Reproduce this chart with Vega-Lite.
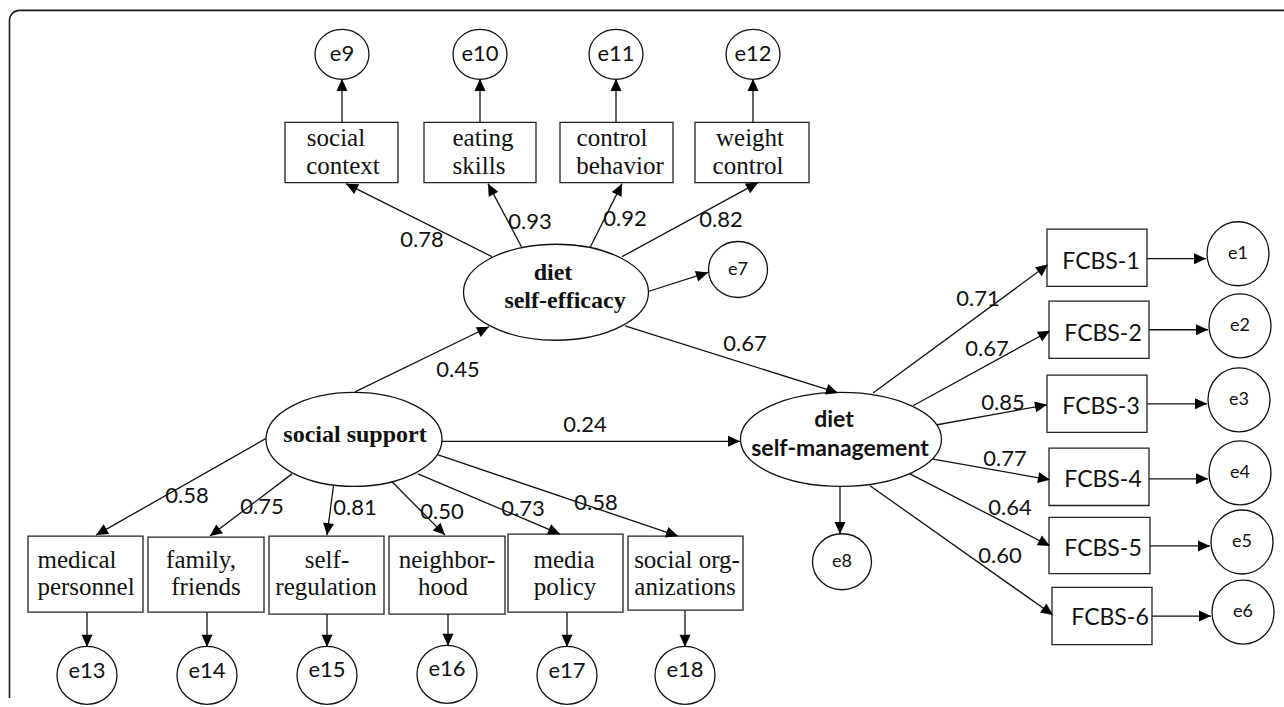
{
  "$schema": "https://vega.github.io/schema/vega-lite/v6.json",
  "width": 1284,
  "height": 707,
  "padding": 0,
  "autosize": {"type": "fit", "contains": "padding"},
  "background": "white",
  "config": {"view": {"stroke": null}},
  "datasets": {
    "frame": [{"x": 9.5, "x2": 1320, "y": 10.5, "y2": 740}],
    "boxes": [
      {"name": "social context", "x": 285, "x2": 398, "y": 124, "y2": 185},
      {"name": "eating skills", "x": 424, "x2": 536, "y": 124, "y2": 185},
      {"name": "control behavior", "x": 560, "x2": 673, "y": 124, "y2": 185},
      {"name": "weight control", "x": 695, "x2": 809, "y": 124, "y2": 185},
      {"name": "medical personnel", "x": 28, "x2": 143, "y": 543, "y2": 620},
      {"name": "family, friends", "x": 148, "x2": 264, "y": 544, "y2": 620},
      {"name": "self-regulation", "x": 269, "x2": 384, "y": 543, "y2": 622},
      {"name": "neighborhood", "x": 389, "x2": 505, "y": 543, "y2": 622},
      {"name": "media policy", "x": 508, "x2": 623, "y": 541, "y2": 620},
      {"name": "social organizations", "x": 628, "x2": 743, "y": 543, "y2": 618},
      {"name": "FCBS-1", "x": 1047, "x2": 1147, "y": 232, "y2": 290},
      {"name": "FCBS-2", "x": 1049, "x2": 1149, "y": 305, "y2": 363},
      {"name": "FCBS-3", "x": 1047, "x2": 1147, "y": 380, "y2": 438},
      {"name": "FCBS-4", "x": 1049, "x2": 1149, "y": 454, "y2": 512},
      {"name": "FCBS-5", "x": 1049, "x2": 1150, "y": 524, "y2": 581},
      {"name": "FCBS-6", "x": 1052, "x2": 1152, "y": 595, "y2": 653}
    ],
    "nodes": [
      {"name": "diet self-efficacy", "kind": "eff", "x": 556, "y": 296},
      {"name": "social support", "kind": "sup", "x": 354, "y": 445},
      {"name": "diet self-management", "kind": "man", "x": 841, "y": 445},
      {"name": "e7", "kind": "errM", "x": 738, "y": 273},
      {"name": "e8", "kind": "errM", "x": 842, "y": 569},
      {"name": "e1", "kind": "errR", "x": 1238, "y": 257},
      {"name": "e2", "kind": "errR", "x": 1240, "y": 330},
      {"name": "e3", "kind": "errR", "x": 1239, "y": 405},
      {"name": "e4", "kind": "errR", "x": 1240, "y": 479},
      {"name": "e5", "kind": "errR", "x": 1242, "y": 549},
      {"name": "e6", "kind": "errR", "x": 1243, "y": 620},
      {"name": "e9", "kind": "errT", "x": 342, "y": 55},
      {"name": "e10", "kind": "errT", "x": 480, "y": 55},
      {"name": "e11", "kind": "errT", "x": 616, "y": 55},
      {"name": "e12", "kind": "errT", "x": 753, "y": 55},
      {"name": "e13", "kind": "errB", "x": 87, "y": 684},
      {"name": "e14", "kind": "errB", "x": 207, "y": 684},
      {"name": "e15", "kind": "errB", "x": 327, "y": 684},
      {"name": "e16", "kind": "errB", "x": 447, "y": 683},
      {"name": "e17", "kind": "errB", "x": 567, "y": 684},
      {"name": "e18", "kind": "errB", "x": 685, "y": 684}
    ],
    "edges": [
      {"x": 492, "y": 260, "x2": 346, "y2": 186},
      {"x": 522, "y": 251, "x2": 488, "y2": 186},
      {"x": 590, "y": 251, "x2": 622, "y2": 186},
      {"x": 622, "y": 260, "x2": 758, "y2": 185},
      {"x": 649, "y": 295, "x2": 708, "y2": 276},
      {"x": 625, "y": 330, "x2": 838, "y2": 398},
      {"x": 355, "y": 397, "x2": 489, "y2": 331},
      {"x": 442, "y": 447, "x2": 740, "y2": 447},
      {"x": 342, "y": 124, "x2": 342, "y2": 80},
      {"x": 480, "y": 124, "x2": 480, "y2": 80},
      {"x": 616, "y": 124, "x2": 616, "y2": 80},
      {"x": 753, "y": 124, "x2": 753, "y2": 80},
      {"x": 268, "y": 443, "x2": 96, "y2": 542},
      {"x": 292, "y": 480, "x2": 210, "y2": 543},
      {"x": 334, "y": 488, "x2": 327, "y2": 542},
      {"x": 390, "y": 486, "x2": 445, "y2": 542},
      {"x": 418, "y": 480, "x2": 560, "y2": 541},
      {"x": 436, "y": 460, "x2": 678, "y2": 543},
      {"x": 87, "y": 620, "x2": 87, "y2": 655},
      {"x": 207, "y": 620, "x2": 207, "y2": 655},
      {"x": 327, "y": 622, "x2": 327, "y2": 655},
      {"x": 448, "y": 622, "x2": 448, "y2": 654},
      {"x": 567, "y": 620, "x2": 567, "y2": 655},
      {"x": 685, "y": 618, "x2": 685, "y2": 655},
      {"x": 873, "y": 398, "x2": 1048, "y2": 268},
      {"x": 913, "y": 411, "x2": 1050, "y2": 335},
      {"x": 933, "y": 431, "x2": 1047, "y2": 410},
      {"x": 933, "y": 465, "x2": 1050, "y2": 486},
      {"x": 910, "y": 480, "x2": 1050, "y2": 553},
      {"x": 870, "y": 492, "x2": 1053, "y2": 623},
      {"x": 840, "y": 493, "x2": 840, "y2": 541},
      {"x": 1147, "y": 262, "x2": 1206, "y2": 262},
      {"x": 1149, "y": 334, "x2": 1208, "y2": 334},
      {"x": 1147, "y": 409, "x2": 1207, "y2": 409},
      {"x": 1149, "y": 485, "x2": 1208, "y2": 485},
      {"x": 1150, "y": 553, "x2": 1210, "y2": 553},
      {"x": 1152, "y": 624, "x2": 1211, "y2": 624}
    ],
    "labels": [
      {"role": "coef", "text": "0.78", "x": 422, "y": 243},
      {"role": "coef", "text": "0.93", "x": 530, "y": 225},
      {"role": "coef", "text": "0.92", "x": 625, "y": 222},
      {"role": "coef", "text": "0.82", "x": 721, "y": 223},
      {"role": "coef", "text": "0.67", "x": 745, "y": 348},
      {"role": "coef", "text": "0.45", "x": 458, "y": 375},
      {"role": "coef", "text": "0.24", "x": 585, "y": 430},
      {"role": "coef", "text": "0.71", "x": 978, "y": 303},
      {"role": "coef", "text": "0.67", "x": 987, "y": 354},
      {"role": "coef", "text": "0.85", "x": 1003, "y": 408},
      {"role": "coef", "text": "0.77", "x": 1005, "y": 465},
      {"role": "coef", "text": "0.64", "x": 1010, "y": 515},
      {"role": "coef", "text": "0.60", "x": 1000, "y": 563},
      {"role": "coef", "text": "0.58", "x": 187, "y": 502},
      {"role": "coef", "text": "0.75", "x": 262, "y": 514},
      {"role": "coef", "text": "0.81", "x": 355, "y": 515},
      {"role": "coef", "text": "0.50", "x": 442, "y": 519},
      {"role": "coef", "text": "0.73", "x": 523, "y": 516},
      {"role": "coef", "text": "0.58", "x": 596, "y": 509},
      {"role": "box", "text": "social", "x": 336, "y": 148},
      {"role": "box", "text": "context", "x": 343, "y": 176},
      {"role": "box", "text": "eating", "x": 483, "y": 148},
      {"role": "box", "text": "skills", "x": 479, "y": 176},
      {"role": "box", "text": "control", "x": 612, "y": 148},
      {"role": "box", "text": "behavior", "x": 620, "y": 176},
      {"role": "box", "text": "weight", "x": 750, "y": 148},
      {"role": "box", "text": "control", "x": 748, "y": 176},
      {"role": "box", "text": "medical", "x": 77, "y": 575},
      {"role": "box", "text": "personnel", "x": 86, "y": 603},
      {"role": "box", "text": "family,", "x": 201, "y": 575},
      {"role": "box", "text": "friends", "x": 206, "y": 603},
      {"role": "box", "text": "self-", "x": 327, "y": 575},
      {"role": "box", "text": "regulation", "x": 326, "y": 603},
      {"role": "box", "text": "neighbor-", "x": 447, "y": 575},
      {"role": "box", "text": "hood", "x": 443, "y": 603},
      {"role": "box", "text": "media", "x": 564, "y": 575},
      {"role": "box", "text": "policy", "x": 565, "y": 603},
      {"role": "box", "text": "social org-", "x": 687, "y": 575},
      {"role": "box", "text": "anizations", "x": 685, "y": 603},
      {"role": "latSerif", "text": "diet", "x": 553, "y": 284},
      {"role": "latSerif", "text": "self-efficacy", "x": 565, "y": 312},
      {"role": "latSerif", "text": "social support", "x": 355, "y": 448},
      {"role": "latSans", "text": "diet", "x": 834, "y": 432},
      {"role": "latSans", "text": "self-management", "x": 840, "y": 462},
      {"role": "fcbs", "text": "FCBS-1", "x": 1101, "y": 272},
      {"role": "fcbs", "text": "FCBS-2", "x": 1103, "y": 345},
      {"role": "fcbs", "text": "FCBS-3", "x": 1101, "y": 419},
      {"role": "fcbs", "text": "FCBS-4", "x": 1103, "y": 493},
      {"role": "fcbs", "text": "FCBS-5", "x": 1103, "y": 563},
      {"role": "fcbs", "text": "FCBS-6", "x": 1110, "y": 633},
      {"role": "eBig", "text": "e9", "x": 342, "y": 55},
      {"role": "eBig", "text": "e10", "x": 480, "y": 55},
      {"role": "eBig", "text": "e11", "x": 616, "y": 55},
      {"role": "eBig", "text": "e12", "x": 753, "y": 55},
      {"role": "eBig", "text": "e13", "x": 87, "y": 680},
      {"role": "eBig", "text": "e14", "x": 207, "y": 680},
      {"role": "eBig", "text": "e15", "x": 327, "y": 679},
      {"role": "eBig", "text": "e16", "x": 447, "y": 678},
      {"role": "eBig", "text": "e17", "x": 567, "y": 680},
      {"role": "eBig", "text": "e18", "x": 685, "y": 679},
      {"role": "eSmall", "text": "e7", "x": 738, "y": 273},
      {"role": "eSmall", "text": "e8", "x": 842, "y": 569},
      {"role": "eSmall", "text": "e1", "x": 1238, "y": 257},
      {"role": "eSmall", "text": "e2", "x": 1240, "y": 330},
      {"role": "eSmall", "text": "e3", "x": 1239, "y": 405},
      {"role": "eSmall", "text": "e4", "x": 1240, "y": 479},
      {"role": "eSmall", "text": "e5", "x": 1242, "y": 549},
      {"role": "eSmall", "text": "e6", "x": 1243, "y": 620}
    ]
  },
  "layer": [
    {
      "data": {"name": "frame"},
      "mark": {"type": "rect", "clip": true, "fill": "white", "stroke": "#1a1a1a", "strokeWidth": 1.6, "cornerRadius": 10},
      "encoding": {
        "x": {"field": "x", "type": "quantitative", "scale": {"domain": [0, 1284], "nice": false, "zero": false}, "axis": null},
        "x2": {"field": "x2"},
        "y": {"field": "y", "type": "quantitative", "scale": {"domain": [0, 707], "nice": false, "zero": false, "reverse": true}, "axis": null},
        "y2": {"field": "y2"}
      }
    },
    {
      "data": {"name": "edges"},
      "mark": {"type": "rule", "stroke": "#111", "strokeWidth": 1.3},
      "encoding": {
        "x": {"field": "x", "type": "quantitative", "scale": {"domain": [0, 1284], "nice": false, "zero": false}, "axis": null},
        "x2": {"field": "x2"},
        "y": {"field": "y", "type": "quantitative", "scale": {"domain": [0, 707], "nice": false, "zero": false, "reverse": true}, "axis": null},
        "y2": {"field": "y2"}
      }
    },
    {
      "data": {"name": "boxes"},
      "mark": {"type": "rect", "fill": "white", "stroke": "#222", "strokeWidth": 1.3},
      "encoding": {
        "x": {"field": "x", "type": "quantitative", "scale": {"domain": [0, 1284], "nice": false, "zero": false}, "axis": null},
        "x2": {"field": "x2"},
        "y": {"field": "y", "type": "quantitative", "scale": {"domain": [0, 707], "nice": false, "zero": false, "reverse": true}, "axis": null},
        "y2": {"field": "y2"}
      }
    },
    {
      "data": {"name": "nodes"},
      "mark": {"type": "point", "size": 4, "filled": true, "fill": "white", "stroke": "#111", "strokeWidth": 1.3, "opacity": 1},
      "encoding": {
        "x": {"field": "x", "type": "quantitative", "scale": {"domain": [0, 1284], "nice": false, "zero": false}, "axis": null},
        "y": {"field": "y", "type": "quantitative", "scale": {"domain": [0, 707], "nice": false, "zero": false, "reverse": true}, "axis": null},
        "shape": {
          "field": "kind",
          "type": "nominal",
          "legend": null,
          "scale": {
            "domain": ["eff", "sup", "man", "errM", "errR", "errT", "errB"],
            "range": [
              "M-92.5,0A92.5,48,0,1,0,92.5,0A92.5,48,0,1,0,-92.5,0Z",
              "M-88,0A88,47,0,1,0,88,0A88,47,0,1,0,-88,0Z",
              "M-100.5,0A100.5,47,0,1,0,100.5,0A100.5,47,0,1,0,-100.5,0Z",
              "M-29.5,0A29.5,28,0,1,0,29.5,0A29.5,28,0,1,0,-29.5,0Z",
              "M-31,0A31,32,0,1,0,31,0A31,32,0,1,0,-31,0Z",
              "M-27,0A27,25,0,1,0,27,0A27,25,0,1,0,-27,0Z",
              "M-30,0A30,29,0,1,0,30,0A30,29,0,1,0,-30,0Z"
            ]
          }
        }
      }
    },
    {
      "data": {"name": "edges"},
      "transform": [{"calculate": "atan2(datum.y2 - datum.y, datum.x2 - datum.x) * 180 / PI", "as": "ang"}],
      "mark": {"type": "point", "shape": "M0,0L-12,-5.5L-12,5.5Z", "size": 4, "filled": true, "fill": "#000", "opacity": 1},
      "encoding": {
        "x": {"field": "x2", "type": "quantitative", "scale": {"domain": [0, 1284], "nice": false, "zero": false}, "axis": null},
        "y": {"field": "y2", "type": "quantitative", "scale": {"domain": [0, 707], "nice": false, "zero": false, "reverse": true}, "axis": null},
        "angle": {"field": "ang", "type": "quantitative", "scale": null}
      }
    },
    {
      "data": {"name": "labels"},
      "transform": [{"filter": "datum.role === 'coef'"}],
      "mark": {"type": "text", "font": "Lato", "fontSize": 22, "align": "center", "baseline": "middle", "color": "#111"},
      "encoding": {
        "x": {"field": "x", "type": "quantitative", "scale": {"domain": [0, 1284], "nice": false, "zero": false}, "axis": null},
        "y": {"field": "y", "type": "quantitative", "scale": {"domain": [0, 707], "nice": false, "zero": false, "reverse": true}, "axis": null},
        "text": {"field": "text"}
      }
    },
    {
      "data": {"name": "labels"},
      "transform": [{"filter": "datum.role === 'box'"}],
      "mark": {"type": "text", "font": "Liberation Serif", "fontSize": 25, "align": "center", "baseline": "alphabetic", "color": "#111"},
      "encoding": {
        "x": {"field": "x", "type": "quantitative", "scale": {"domain": [0, 1284], "nice": false, "zero": false}, "axis": null},
        "y": {"field": "y", "type": "quantitative", "scale": {"domain": [0, 707], "nice": false, "zero": false, "reverse": true}, "axis": null},
        "text": {"field": "text"}
      }
    },
    {
      "data": {"name": "labels"},
      "transform": [{"filter": "datum.role === 'latSerif'"}],
      "mark": {"type": "text", "font": "Liberation Serif", "fontSize": 24, "fontWeight": "bold", "align": "center", "baseline": "alphabetic", "color": "#111"},
      "encoding": {
        "x": {"field": "x", "type": "quantitative", "scale": {"domain": [0, 1284], "nice": false, "zero": false}, "axis": null},
        "y": {"field": "y", "type": "quantitative", "scale": {"domain": [0, 707], "nice": false, "zero": false, "reverse": true}, "axis": null},
        "text": {"field": "text"}
      }
    },
    {
      "data": {"name": "labels"},
      "transform": [{"filter": "datum.role === 'latSans'"}],
      "mark": {"type": "text", "font": "Lato", "fontSize": 23, "fontWeight": "bold", "align": "center", "baseline": "alphabetic", "color": "#111"},
      "encoding": {
        "x": {"field": "x", "type": "quantitative", "scale": {"domain": [0, 1284], "nice": false, "zero": false}, "axis": null},
        "y": {"field": "y", "type": "quantitative", "scale": {"domain": [0, 707], "nice": false, "zero": false, "reverse": true}, "axis": null},
        "text": {"field": "text"}
      }
    },
    {
      "data": {"name": "labels"},
      "transform": [{"filter": "datum.role === 'fcbs'"}],
      "mark": {"type": "text", "font": "Lato", "fontSize": 23, "align": "center", "baseline": "alphabetic", "color": "#111"},
      "encoding": {
        "x": {"field": "x", "type": "quantitative", "scale": {"domain": [0, 1284], "nice": false, "zero": false}, "axis": null},
        "y": {"field": "y", "type": "quantitative", "scale": {"domain": [0, 707], "nice": false, "zero": false, "reverse": true}, "axis": null},
        "text": {"field": "text"}
      }
    },
    {
      "data": {"name": "labels"},
      "transform": [{"filter": "datum.role === 'eBig'"}],
      "mark": {"type": "text", "font": "Lato", "fontSize": 22, "align": "center", "baseline": "middle", "color": "#111"},
      "encoding": {
        "x": {"field": "x", "type": "quantitative", "scale": {"domain": [0, 1284], "nice": false, "zero": false}, "axis": null},
        "y": {"field": "y", "type": "quantitative", "scale": {"domain": [0, 707], "nice": false, "zero": false, "reverse": true}, "axis": null},
        "text": {"field": "text"}
      }
    },
    {
      "data": {"name": "labels"},
      "transform": [{"filter": "datum.role === 'eSmall'"}],
      "mark": {"type": "text", "font": "Lato", "fontSize": 18, "align": "center", "baseline": "middle", "color": "#111"},
      "encoding": {
        "x": {"field": "x", "type": "quantitative", "scale": {"domain": [0, 1284], "nice": false, "zero": false}, "axis": null},
        "y": {"field": "y", "type": "quantitative", "scale": {"domain": [0, 707], "nice": false, "zero": false, "reverse": true}, "axis": null},
        "text": {"field": "text"}
      }
    }
  ]
}
